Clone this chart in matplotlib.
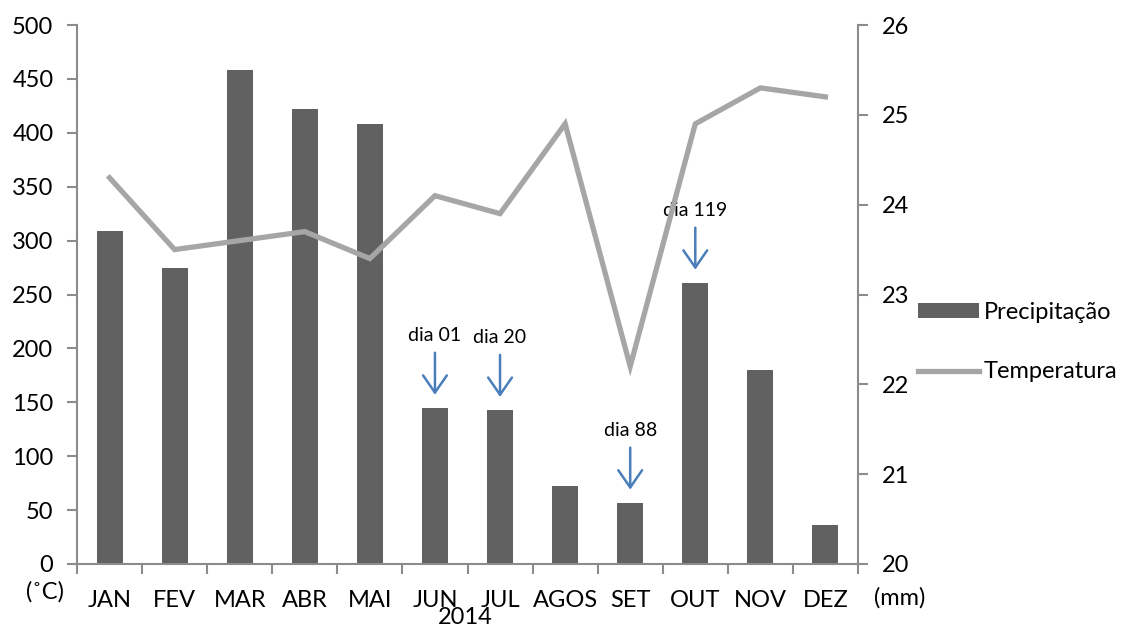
import matplotlib
matplotlib.use("Agg")
import matplotlib.pyplot as plt
from matplotlib.patches import Patch
from matplotlib.lines import Line2D

plt.rcParams['font.family'] = ['Lato', 'DejaVu Sans']

months = ["JAN", "FEV", "MAR", "ABR", "MAI", "JUN", "JUL", "AGOS", "SET", "OUT", "NOV", "DEZ"]
precipitacao = [309, 275, 458, 422, 408, 145, 143, 72, 57, 261, 180, 36]
temperatura = [24.3, 23.5, 23.6, 23.7, 23.4, 24.1, 23.9, 24.9, 22.2, 24.9, 25.3, 25.2]
left_ticks = [0, 50, 100, 150, 200, 250, 300, 350, 400, 450, 500]
right_ticks = [20, 21, 22, 23, 24, 25, 26]
annot_months = ["JUN", "JUL", "SET", "OUT"]
annot_labels = ["dia 01", "dia 20", "dia 88", "dia 119"]

bar_color = "#616161"
line_color = "#a6a6a6"
spine_color = "#8c8c8c"
arrow_color = "#4a7ebb"

fig = plt.figure(figsize=(11.26, 6.28), dpi=100)
ax = fig.add_axes([77/1126, 64/628, (858-77)/1126, (564-25)/628])
ax2 = ax.twinx()

x = list(range(len(months)))
ax.bar(x, precipitacao, width=0.4, color=bar_color, zorder=2)
ax2.plot(x, temperatura, color=line_color, lw=3.8, zorder=3, solid_joinstyle='miter')

ax.set_xlim(-0.5, 11.5)
ax.set_ylim(0, 500)
ax2.set_ylim(20, 26)
ax.set_yticks(left_ticks)
ax2.set_yticks(right_ticks)
ax.set_xticks(x)
ax.set_xticklabels(months)
ax.set_xticks([i - 0.5 for i in range(13)], minor=True)

for a in (ax, ax2):
    a.spines['top'].set_visible(False)
    for s in ('left', 'right', 'bottom'):
        a.spines[s].set_color(spine_color)
        a.spines[s].set_linewidth(1.5)
ax.spines['right'].set_visible(False)
ax2.spines['left'].set_visible(False)
ax2.spines['bottom'].set_visible(False)

fs = 17
ax.tick_params(axis='y', direction='out', length=7, width=1.5, color=spine_color,
               labelsize=fs, pad=10)
ax2.tick_params(axis='y', direction='out', length=7, width=1.5, color=spine_color,
                labelsize=fs, pad=10)
ax.tick_params(axis='x', which='major', length=0, labelsize=fs, pad=19)
ax.tick_params(axis='x', which='minor', length=7, width=1.5, color=spine_color)

# annotations
for m, lab in zip(annot_months, annot_labels):
    i = months.index(m)
    top = precipitacao[i]
    ax.annotate("", xy=(i, top + 12), xytext=(i, top + 51),
                arrowprops=dict(arrowstyle="->, head_length=0.65, head_width=0.45",
                                color=arrow_color, lw=1.8, mutation_scale=19,
                                shrinkA=0, shrinkB=0), zorder=4)
    ax.text(i, top + 67, lab, ha='center', va='center', fontsize=14, zorder=4)

# axis unit labels and year
fig.text(45/1126, 1 - 592/628, "(˚C)", ha='center', va='center', fontsize=fs)
fig.text(900/1126, 1 - 598/628, "(mm)", ha='center', va='center', fontsize=fs)
fig.text(465/1126, 1 - 618/628, "2014", ha='center', va='center', fontsize=fs)

handles = [Patch(facecolor=bar_color, edgecolor='none'),
           Line2D([0], [0], color=line_color, lw=3.8)]
fig.legend(handles, ["Precipitação", "Temperatura"], loc='center left',
           bbox_to_anchor=(918/1126, 1 - 342/628), frameon=False, fontsize=fs,
           handlelength=2.6, handleheight=0.6, labelspacing=1.65, handletextpad=0.2,
           borderpad=0, borderaxespad=0)

fig.savefig("out.png", dpi=100)
